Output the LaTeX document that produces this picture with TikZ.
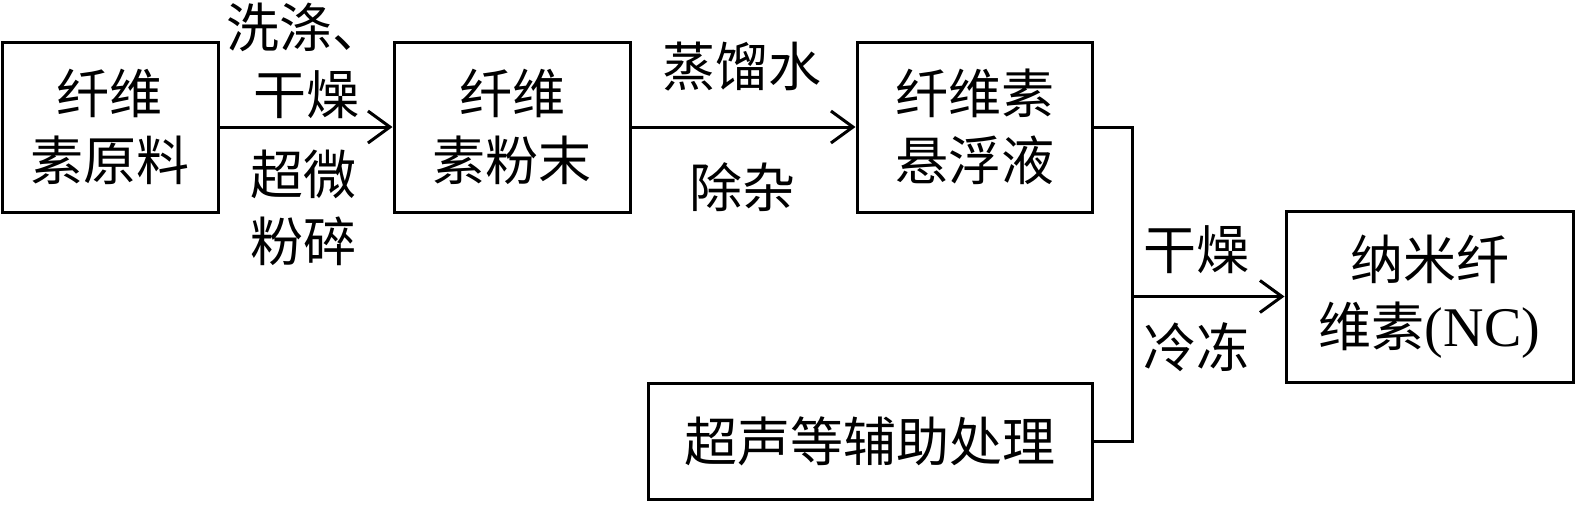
\documentclass[tikz,border=0pt]{standalone}
\usepackage{fontspec}
\setmainfont{Liberation Serif}
\newfontfamily\cjk{Noto Sans CJK SC}
\usetikzlibrary{arrows.meta}
\begin{document}
\begin{tikzpicture}[x=1pt,y=-1pt,
  txt/.style={font=\cjk\fontsize{53}{67}\selectfont, align=center, inner sep=0pt},
  box/.style={txt, draw, line width=3pt, rectangle},
  lbl/.style={txt},
  conn/.style={line width=3pt},
  arr/.style={conn, -{Straight Barb[length=22pt,width=32pt,line width=3pt]}}]
\useasboundingbox (0,0) rectangle (1575,512);
\node[box, minimum width=216pt, minimum height=170pt] (b1) at (110,127) {纤维\\素原料};
\node[box, minimum width=236pt, minimum height=170pt] (b2) at (512,127) {纤维\\素粉末};
\node[box, minimum width=235pt, minimum height=170pt] (b3) at (974.5,127) {纤维素\\悬浮液};
\node[box, minimum width=287pt, minimum height=171pt] (b4) at (1429.5,296.5) {纳米纤\\维素{\rmfamily\fontsize{56}{67}\selectfont (NC)}};
\node[box, minimum width=444pt, minimum height=116pt] (b5) at (870,441) {超声等辅助处理};
\node[lbl] (l1) at (306,61) {洗涤、\\干燥};
\node[lbl] (l2) at (303,207.5) {超微\\粉碎};
\node[lbl] (l3) at (742,67) {蒸馏水};
\node[lbl] (l4) at (742,187) {除杂};
\node[lbl] (l5) at (1196,250) {干燥};
\node[lbl] (l6) at (1196,347) {冷冻};
\coordinate (j1) at (1132,127);
\coordinate (j2) at (1134,296.5);
\draw[arr] (b1.east) -- (b2.west);
\draw[arr] (b2.east) -- (b3.west);
\draw[conn] (b3.east) -- (j1) |- (b5.east);
\draw[arr] (j2) -- (b4.west);
\end{tikzpicture}
\end{document}
